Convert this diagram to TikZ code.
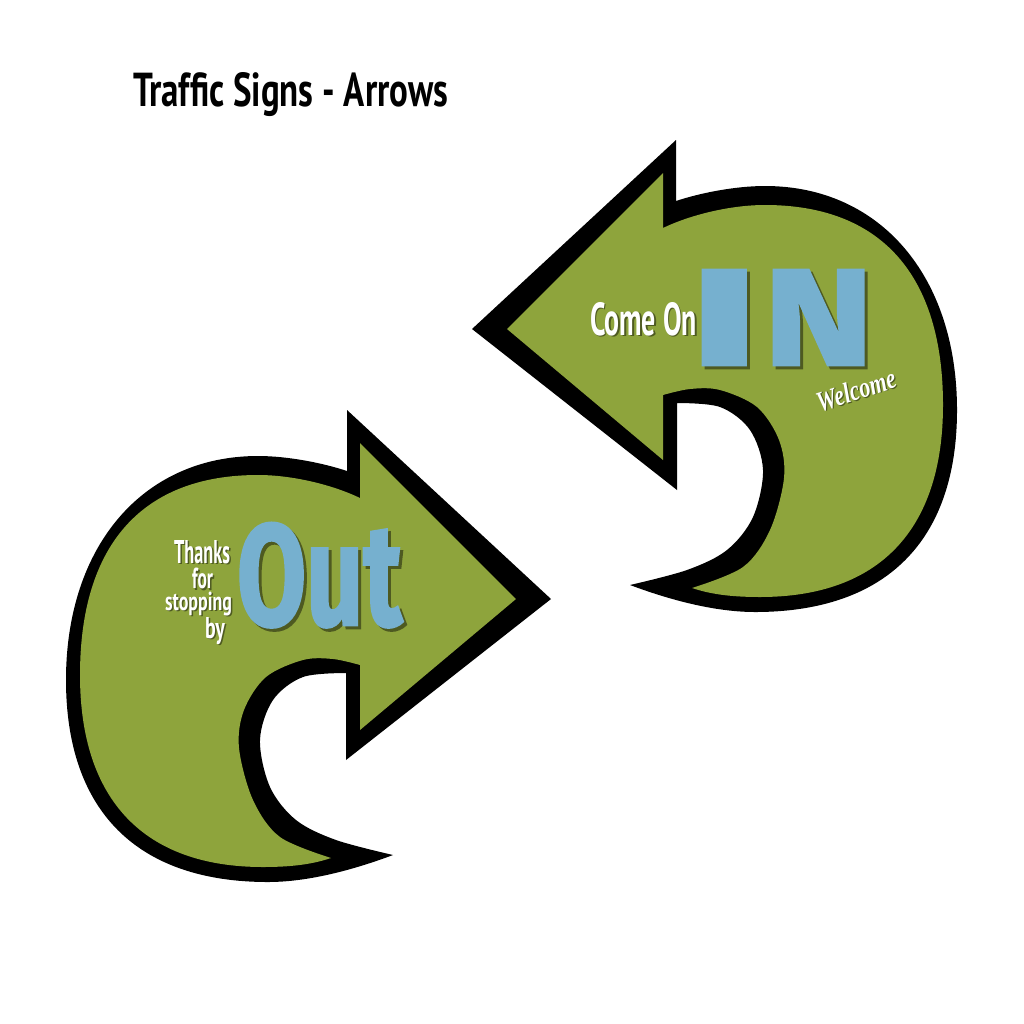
\documentclass[tikz,border=0pt]{standalone}
\usepackage{fontspec}
\usepackage{graphicx}
\setmainfont{PT Sans}
\newfontfamily\heavyfont{Fira Sans}[BoldFeatures={FakeBold=2}]
\newfontfamily\handfont{Liberation Serif}
\definecolor{leaf}{RGB}{142,164,60}
\definecolor{signblue}{RGB}{118,176,207}
\colorlet{leafshadow}{leaf!55!black}
\newcommand\withshadow[3]{\makebox[0pt][l]{\hspace{#1}\raisebox{-#1}{\textcolor{leafshadow}{#3}}}\textcolor{#2}{#3}}
\newcommand\drawarrowshape{%
  \fill[black] (472,329) -- (676,140) -- (676,201)
    .. controls (700,193) and (735,186) .. (765,186)
    .. controls (880,186) and (957,276) .. (957,410)
    .. controls (957,541) and (886,612) .. (755,612)
    .. controls (715,612) and (670,600) .. (630,585)
    -- plot[smooth,tension=0.55] coordinates {(630,585) (687,570) (727,550) (753,517) (763,470) (750,430) (720,407) (677,403)}
    -- (677,490) -- cycle;
  \fill[leaf] (507,329) -- (663,173) -- (663,228)
    .. controls (690,215) and (730,205) .. (765,205)
    .. controls (881,205) and (943,275) .. (943,405)
    .. controls (943,530) and (879,597) .. (760,597)
    .. controls (730,597) and (710,594) .. (692,588)
    -- plot[smooth,tension=0.55] coordinates {(692,588) (743,567) (770,530) (784,478) (779,440) (757,407) (720,390) (690,389) (663,395)}
    -- (663,460) -- cycle;
}
\tikzset{
  lbl/.style={inner sep=0pt, outer sep=0pt, anchor=base west}
}
\begin{document}
\begin{tikzpicture}[x=1pt,y=-1pt]
\useasboundingbox (0,0) rectangle (1024,1023);
\fill[white] (0,0) rectangle (1024,1023);

% IN arrow (pointing left)
\begin{scope}
  \drawarrowshape
\end{scope}
% Out arrow (mirror image, pointing right)
\begin{scope}[shift={(1023,270)}, xscale=-1]
  \drawarrowshape
\end{scope}

% title
\node[lbl] (title) at (133,106.5) {\resizebox{315pt}{34pt}{\bfseries Traffic Signs - Arrows}};

% IN sign texts
\node[lbl] (comeon) at (590,335) {\withshadow{1.5pt}{white}{\resizebox{107pt}{33pt}{\bfseries Come On}}};
\node[lbl] (in) at (688,365) {\withshadow{3pt}{signblue}{\resizebox{72pt}{95pt}{\heavyfont\bfseries I}\hspace{3.5pt}\resizebox{110pt}{95pt}{\heavyfont\bfseries N}}};
\node[lbl, rotate=18] (welcome) at (820,412) {\withshadow{1pt}{white}{\resizebox{82pt}{20pt}{\handfont\bfseries\itshape Welcome}}};

% Out sign texts
\node[lbl] (out) at (237,625) {\withshadow{3pt}{signblue}{\resizebox{165pt}{102pt}{\heavyfont\bfseries Out}}};
\node[lbl] (thanks) at (174,563) {\withshadow{1.5pt}{white}{\resizebox{56pt}{23pt}{\bfseries Thanks}}};
\node[lbl] (for) at (192,588.5) {\withshadow{1.5pt}{white}{\resizebox{21pt}{20.5pt}{\bfseries for}}};
\node[lbl] (stopping) at (165,610) {\withshadow{1.5pt}{white}{\resizebox{67pt}{18.5pt}{\bfseries stopping}}};
\node[lbl] (by) at (205,638) {\withshadow{1.5pt}{white}{\resizebox{20pt}{21pt}{\bfseries by}}};
\end{tikzpicture}
\end{document}
